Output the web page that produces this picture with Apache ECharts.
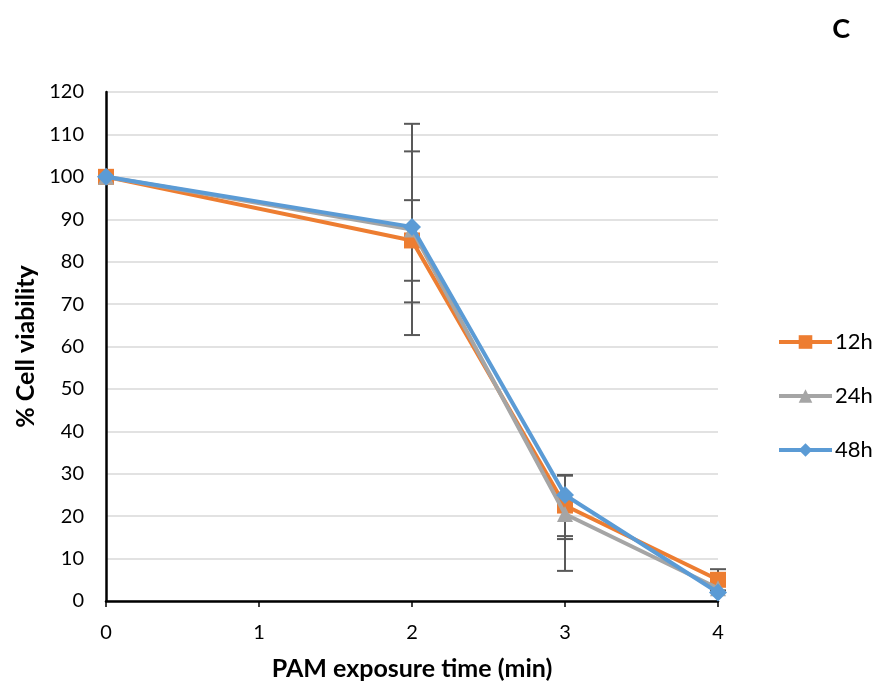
<!DOCTYPE html>
<html>
<head>
<meta charset="utf-8">
<script src="https://cdn.jsdelivr.net/npm/echarts@6/dist/echarts.min.js"></script>
<style>html,body{margin:0;padding:0;background:#fff}#c{width:873px;height:686px}</style>
</head>
<body>
<div id="c"></div>
<script>
const xValues = [0, 2, 3, 4];
const xTicks = [0, 1, 2, 3, 4];
const seriesNames = ['12h', '24h', '48h'];
const v12 = [100, 85, 22.5, 5];
const v24 = [100, 87.6, 20.5, 3];
const v48 = [100, 88.2, 25, 2];
// error bar extents (minus / plus)
const e12Minus = [0, 9.5, 7.2, 2.5];
const e12Plus = [0, 9.5, 7.2, 2.5];
const e24Minus = [0, 24.9, 13.4, 0];
const e24Plus = [0, 24.9, 9.1, 0];
const e48Minus = [0, 17.8, 10.4, 0];
const e48Plus = [0, 17.8, 4.6, 0];

const colors = ['#ED7D31', '#A5A5A5', '#5B9BD5'];
const symbols = ['rect', 'triangle', 'diamond'];
const symSizes = [16, 16, 18];
const vals = [v12, v24, v48];
const errMinus = [e12Minus, e24Minus, e48Minus];
const errPlus = [e12Plus, e24Plus, e48Plus];

const font = 'Lato, "Open Sans", sans-serif';

const lineSeries = seriesNames.map((n, i) => ({
  name: n,
  type: 'line',
  data: xValues.map((x, j) => [x, vals[i][j]]),
  symbol: symbols[i],
  symbolSize: symSizes[i],
  showAllSymbol: true,
  lineStyle: { color: colors[i], width: 4 },
  itemStyle: { color: colors[i] },
  z: 3 + i,
  animation: false
}));

const errData = [];
seriesNames.forEach((n, i) => {
  xValues.forEach((x, j) => {
    if (errMinus[i][j] > 0 || errPlus[i][j] > 0)
      errData.push([x, vals[i][j] - errMinus[i][j], vals[i][j] + errPlus[i][j]]);
  });
});

const errSeries = {
  type: 'custom',
  name: 'err',
  data: errData,
  z: 2,
  silent: true,
  animation: false,
  renderItem: function (params, api) {
    const x = api.value(0);
    const lo = api.coord([x, api.value(1)]);
    const hi = api.coord([x, api.value(2)]);
    const w = 8;
    const st = { stroke: '#595959', lineWidth: 2 };
    return {
      type: 'group',
      children: [
        { type: 'line', shape: { x1: lo[0], y1: lo[1], x2: hi[0], y2: hi[1] }, style: st },
        { type: 'line', shape: { x1: lo[0] - w, y1: lo[1], x2: lo[0] + w, y2: lo[1] }, style: st },
        { type: 'line', shape: { x1: hi[0] - w, y1: hi[1], x2: hi[0] + w, y2: hi[1] }, style: st }
      ]
    };
  }
};

const chart = echarts.init(document.getElementById('c'));
chart.setOption({
  backgroundColor: '#fff',
  animation: false,
  title: {
    text: 'C', right: 18, top: 11,
    textStyle: { fontFamily: font, fontWeight: 'bold', fontSize: 27, color: '#000' }
  },
  legend: {
    data: seriesNames,
    orient: 'vertical',
    left: 772, top: 326,
    itemWidth: 53, itemHeight: 17,
    itemGap: 32,
    lineStyle: { width: 4 },
    textStyle: { fontFamily: font, fontSize: 22, color: '#000', padding: [0, 0, 0, -2] }
  },
  grid: { left: 106, right: 155, top: 92, bottom: 84 },
  xAxis: {
    type: 'value', min: 0, max: 4, interval: 1,
    name: 'PAM exposure time (min)', nameLocation: 'middle', nameGap: 55,
    nameTextStyle: { fontFamily: font, fontWeight: 'bold', fontSize: 25, color: '#000' },
    axisLine: { lineStyle: { color: '#000', width: 2.5 } },
    axisTick: { show: true, inside: false, length: 6, lineStyle: { color: '#000', width: 1.5 } },
    splitLine: { show: false },
    axisLabel: { fontFamily: font, fontSize: 20, color: '#000', margin: 22,
      formatter: function (v) { return xTicks.indexOf(v) >= 0 ? String(v) : ''; } }
  },
  yAxis: {
    type: 'value', min: 0, max: 120, interval: 10,
    name: '% Cell viability', nameLocation: 'middle', nameGap: 66, nameRotate: 90,
    nameTextStyle: { fontFamily: font, fontWeight: 'bold', fontSize: 25, color: '#000' },
    axisLine: { show: true, lineStyle: { color: '#000', width: 2.5 } },
    axisTick: { show: false },
    splitLine: { lineStyle: { color: '#D9D9D9', width: 1.5 } },
    axisLabel: { fontFamily: font, fontSize: 20, color: '#000', margin: 22 }
  },
  series: [errSeries].concat(lineSeries)
});
</script>
</body>
</html>
